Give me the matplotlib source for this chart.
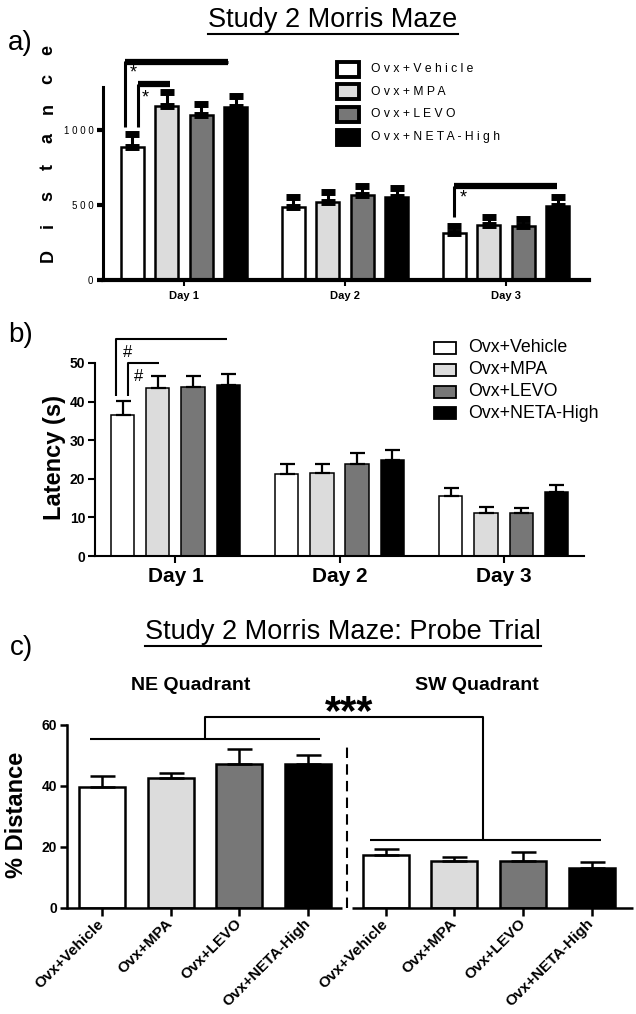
import matplotlib.pyplot as plt
from matplotlib.lines import Line2D
from matplotlib.patches import Rectangle
import numpy as np

plt.rcParams['font.family'] = ['Liberation Sans', 'DejaVu Sans']

days = ['Day 1', 'Day 2', 'Day 3']
groups = ['Ovx+Vehicle', 'Ovx+MPA', 'Ovx+LEVO', 'Ovx+NETA-High']
bar_colors = ['white', '#dcdcdc', '#777777', 'black']

# a) distance, rows = groups, columns = days
dist_mean = [[887, 487, 316], [1162, 522, 367], [1100, 567, 362], [1153, 553, 493]]
dist_sem = [[85, 66, 46], [90, 65, 53], [75, 62, 47], [75, 60, 60]]

# b) latency (s)
lat_mean = [[36.6, 21.2, 15.5], [43.5, 21.4, 11.2], [43.8, 23.9, 11.1], [44.2, 24.9, 16.5]]
lat_sem = [[3.5, 2.6, 2.0], [3.2, 2.5, 1.6], [2.9, 2.8, 1.4], [3.0, 2.6, 2.0]]

# c) probe trial, % distance in quadrant
ne_mean = [39.7, 42.5, 47.1, 47.1]
ne_sem = [3.6, 1.6, 4.9, 3.0]
sw_mean = [17.3, 15.3, 15.3, 13.1]
sw_sem = [2.0, 1.5, 2.9, 1.8]

W, H = 636, 1014
fig = plt.figure(figsize=(W / 100, H / 100), dpi=100)


def fx(x):
    return x / W


def fy(y):
    return 1 - y / H


def px_axes(left, top, right, bottom):
    return fig.add_axes([fx(left), fy(bottom), (right - left) / W, (bottom - top) / H])


def underlined_title(x, y, text, size):
    t = fig.text(fx(x), fy(y), text, fontsize=size, ha='center', va='center')
    fig.canvas.draw()
    bb = t.get_window_extent().transformed(fig.transFigure.inverted())
    fig.add_artist(Line2D([bb.x0, bb.x1], [bb.y0 - 0.001, bb.y0 - 0.001],
                          transform=fig.transFigure, color='black', lw=1.5))


def key(rows_y, box_x, box_w, box_h, text_x, labels, size, lw):
    for i, lab in enumerate(labels):
        y = rows_y[i]
        fig.add_artist(Rectangle((fx(box_x), fy(y + box_h / 2)), box_w / W, box_h / H,
                                 transform=fig.transFigure, facecolor=bar_colors[i],
                                 edgecolor='black', lw=lw))
        fig.text(fx(text_x), fy(y), lab, fontsize=size, ha='left', va='center')


def bracket(ax, pts, lw, **kw):
    xs, ys = zip(*pts)
    ax.plot(xs, ys, color='black', lw=lw, clip_on=False, solid_capstyle='butt', **kw)


# ---------------- a) ----------------
underlined_title(333, 20, 'Study 2 Morris Maze', 19.5)
fig.text(fx(8), fy(43), 'a)', fontsize=20, ha='left', va='center')

ax = px_axes(103, 86.5, 589, 280)
x = np.arange(len(days))
step, width = 0.214, 0.143
for i in range(len(groups)):
    xs = x + (i - 1.5) * step
    ax.bar(xs, dist_mean[i], width, color=bar_colors[i], edgecolor='black', linewidth=1.8, zorder=2)
    ax.errorbar(xs, dist_mean[i], yerr=[np.zeros(3), dist_sem[i]], fmt='none', ecolor='black',
                elinewidth=2.2, capsize=5, capthick=5, zorder=3)
ax.set_xlim(-0.503, 2.515)
ax.set_ylim(0, 1290)
for s in ['top', 'right']:
    ax.spines[s].set_visible(False)
ax.spines['left'].set_linewidth(2.2)
ax.spines['bottom'].set_linewidth(3)
ax.set_yticks([0, 500, 1000])
ax.set_yticklabels(['0', '5 0 0', '1 0 0 0'], fontsize=7)
ax.tick_params(axis='y', length=4, width=3, pad=3)
ax.set_xticks(x)
ax.set_xticklabels(days, fontsize=8, fontweight='bold')
ax.tick_params(axis='x', length=4, width=1.5, pad=4)

# significance bars
bracket(ax, [(-0.366, 1020), (-0.366, 1453), (0.273, 1453)], 2.2)
bracket(ax, [(-0.366, 1453), (0.273, 1453)], 4.5)
bracket(ax, [(-0.286, 1020), (-0.286, 1307)], 2.2)
bracket(ax, [(-0.286, 1307), (-0.087, 1307)], 4.5)
bracket(ax, [(1.677, 420), (1.677, 627)], 2.2)
bracket(ax, [(1.677, 627), (2.317, 627)], 4.5)
for sx, sy in [(-0.317, 1380), (-0.242, 1215), (1.733, 548)]:
    ax.text(sx, sy, '*', fontsize=13, ha='center', va='center', clip_on=False)

ylab = 'Distance'
for k, ch in enumerate(ylab):
    fig.text(fx(48), fy(255 - 29.3 * k), ch, fontsize=13, fontweight='bold',
             rotation=90, ha='center', va='center')

key([69 + 22.7 * i for i in range(4)], 337, 22, 15, 371,
    [' '.join(g) for g in groups], 8.7, 2.8)

# ---------------- b) ----------------
fig.text(fx(8), fy(335), 'b)', fontsize=20, ha='left', va='center')
ax = px_axes(95, 363, 584, 556)
step, width = 0.2147, 0.142
for i in range(len(groups)):
    xs = x + (i - 1.5) * step
    ax.bar(xs, lat_mean[i], width, color=bar_colors[i], edgecolor='black', linewidth=1.1, zorder=2)
    ax.errorbar(xs, lat_mean[i], yerr=[np.zeros(3), lat_sem[i]], fmt='none', ecolor='black',
                elinewidth=1.6, capsize=5.4, capthick=1.6, zorder=3)
ax.set_xlim(-0.49, 2.49)
ax.set_ylim(0, 50)
for s in ['top', 'right']:
    ax.spines[s].set_visible(False)
for s in ['left', 'bottom']:
    ax.spines[s].set_linewidth(1.5)
ax.set_yticks(range(0, 51, 10))
ax.tick_params(axis='y', length=5, width=1.5, pad=2, labelsize=10)
for t in ax.get_yticklabels():
    t.set_fontweight('bold')
ax.set_xticks(x)
ax.set_xticklabels(days, fontsize=15, fontweight='bold')
ax.tick_params(axis='x', length=5, width=1.5, pad=3)
fig.text(fx(55), fy(458), 'Latency (s)', fontsize=17, fontweight='bold',
         rotation=90, ha='center', va='center')

bracket(ax, [(-0.362, 41.5), (-0.362, 56.2), (0.313, 56.2)], 1.5)
bracket(ax, [(-0.288, 41.5), (-0.288, 50.0), (-0.102, 50.0)], 1.5)
ax.text(-0.294, 52.6, '#', fontsize=12, ha='center', va='center', clip_on=False)
ax.text(-0.226, 46.4, '#', fontsize=12, ha='center', va='center', clip_on=False)

key([348, 370, 392, 413], 434, 22, 12, 468, groups, 12.8, 1.3)

# ---------------- c) ----------------
underlined_title(343, 632, 'Study 2 Morris Maze: Probe Trial', 19.5)
fig.text(fx(10), fy(648), 'c)', fontsize=20, ha='left', va='center')
fig.text(fx(191), fy(685), 'NE Quadrant', fontsize=14, fontweight='bold', ha='center', va='center')
fig.text(fx(477), fy(685), 'SW Quadrant', fontsize=14, fontweight='bold', ha='center', va='center')

ax = px_axes(67, 725, 633, 907.7)
ne_x = np.arange(4)
sw_x = np.arange(4) + 4.13
for xs, m, e in [(ne_x, ne_mean, ne_sem), (sw_x, sw_mean, sw_sem)]:
    ax.bar(xs, m, 0.67, color=bar_colors, edgecolor='black', linewidth=1.8, zorder=2)
    ax.errorbar(xs, m, yerr=[np.zeros(4), e], fmt='none', ecolor='black',
                elinewidth=1.8, capsize=9, capthick=1.8, zorder=3)
ax.set_xlim(-0.51, 7.73)
ax.set_ylim(0, 60)
for s in ['top', 'right', 'bottom']:
    ax.spines[s].set_visible(False)
ax.spines['left'].set_linewidth(1.8)
ax.plot([-0.51, 3.49], [0, 0], color='black', lw=1.8, clip_on=False, solid_capstyle='butt')
ax.plot([3.64, 7.73], [0, 0], color='black', lw=1.8, clip_on=False, solid_capstyle='butt')
ax.plot([3.57, 3.57], [0, 54.4], color='black', lw=1.5, ls=(0, (5, 3)))
ax.set_yticks([0, 20, 40, 60])
ax.tick_params(axis='y', length=5, width=1.8, pad=2, labelsize=10)
for t in ax.get_yticklabels():
    t.set_fontweight('bold')
ax.set_xticks(np.concatenate([ne_x, sw_x]))
ax.set_xticklabels(groups * 2, fontsize=11, fontweight='bold', rotation=45,
                   ha='right', va='center', rotation_mode='anchor')
ax.tick_params(axis='x', length=6, width=1.8, pad=4)
fig.text(fx(17), fy(815), '% Distance', fontsize=17, fontweight='bold',
         rotation=90, ha='center', va='center')

bracket(ax, [(-0.175, 55.3), (3.17, 55.3)], 1.5)
bracket(ax, [(3.9, 22.3), (7.26, 22.3)], 1.5)
bracket(ax, [(1.5, 55.3), (1.5, 62.7), (5.55, 62.7), (5.55, 22.3)], 1.5)
ax.text(3.6, 63.9, '***', fontsize=30, fontweight='bold', ha='center', va='center', clip_on=False)

fig.savefig('out.png', dpi=100)
